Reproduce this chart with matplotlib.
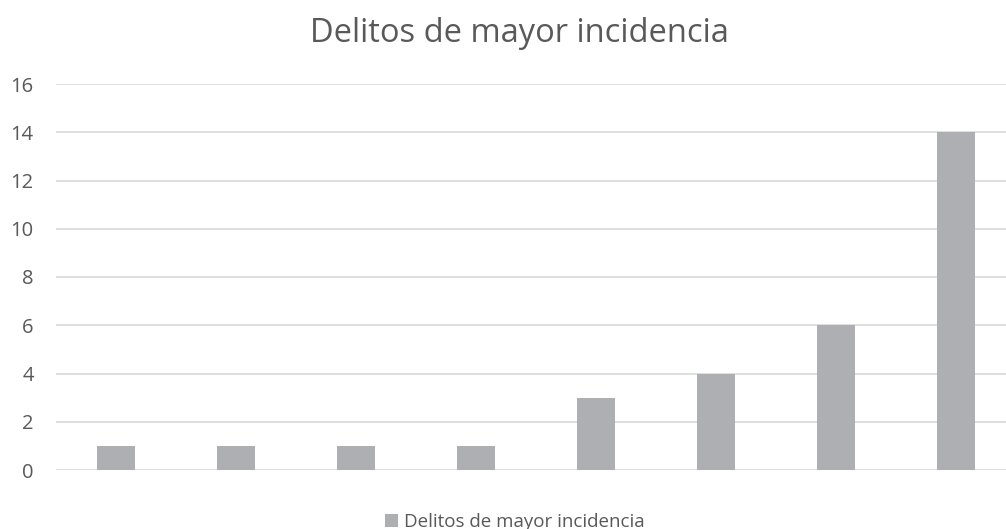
import matplotlib
matplotlib.use('Agg')
import matplotlib.pyplot as plt
import numpy as np

# datos
categorias = ['1', '2', '3', '4', '5', '6', '7', '8']
valores = [1, 1, 1, 1, 3, 4, 6, 14]
serie = 'Delitos de mayor incidencia'

plt.rcParams['font.family'] = ['Open Sans', 'DejaVu Sans']
texto = '#595959'

fig = plt.figure(figsize=(10.06, 5.29), dpi=100)
ax = fig.add_axes([56 / 1006, 59 / 529, 960 / 1006, 386 / 529])

x = np.arange(len(categorias))
ax.bar(x, valores, width=0.32, color='#AEAFB3', label=serie, zorder=3)

ax.set_xlim(-0.5, len(categorias) - 0.5)
ax.set_ylim(0, 16)
ax.set_yticks(range(0, 17, 2))
ax.set_xticks([])
ax.grid(axis='y', color='#D9D9D9', linewidth=1.2, zorder=0)
for s in ax.spines.values():
    s.set_visible(False)
ax.tick_params(axis='y', length=0, labelsize=14.5, labelcolor=texto, pad=16)

fig.text(519 / 1006, 1 - 34 / 529, 'Delitos de mayor incidencia',
         ha='center', va='center', fontsize=23.5, color=texto)

fig.legend(loc='center', bbox_to_anchor=(515 / 1006, 7 / 529), frameon=False,
           fontsize=13.5, labelcolor=texto, handlelength=0.7, handleheight=0.7,
           handletextpad=0.3)

fig.savefig('out.png', dpi=100)
